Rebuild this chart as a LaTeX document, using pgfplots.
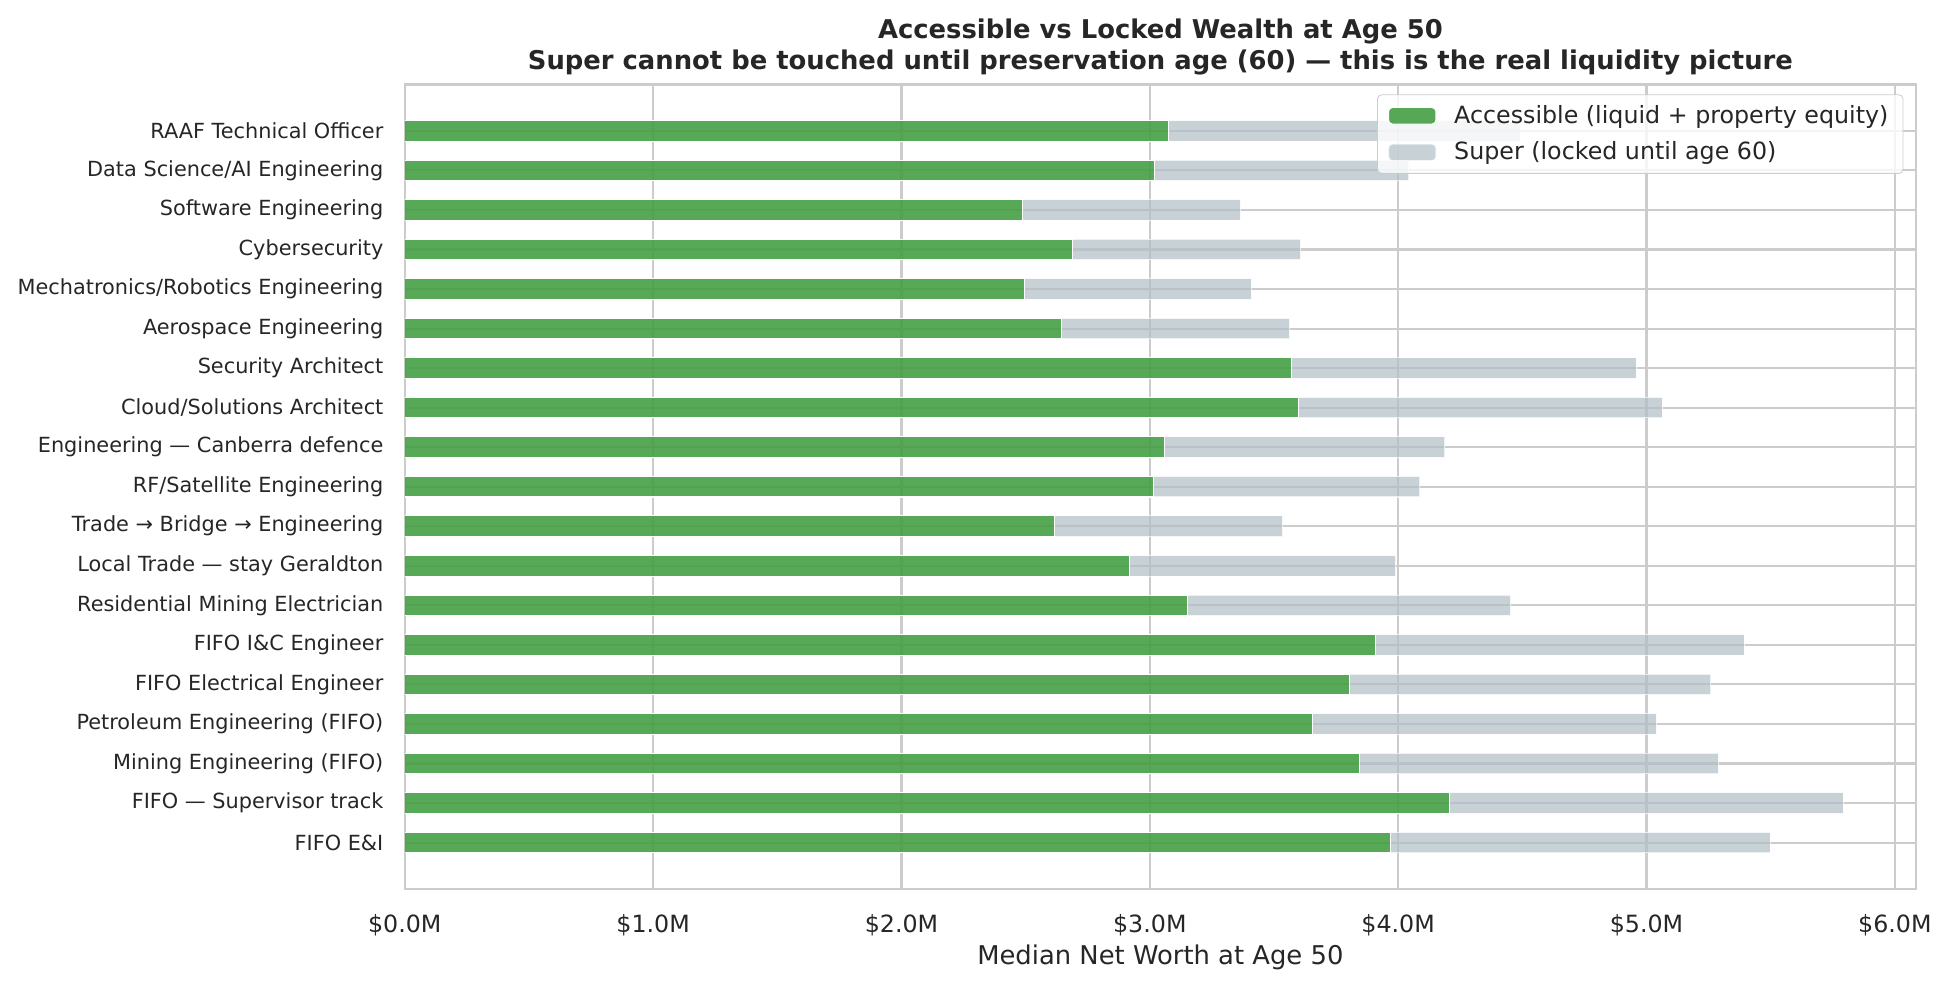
\documentclass[border=0pt]{standalone}
\usepackage{fontspec}
\setmainfont{DejaVu Sans}
\usepackage{pgfplots}
\usepackage{pgfplotstable}
\pgfplotsset{compat=1.18}
\definecolor{accgreen}{RGB}{69,158,69}
\definecolor{supgray}{RGB}{176,190,197}
\definecolor{gridgray}{RGB}{204,204,204}
\definecolor{txt}{RGB}{38,38,38}
\pgfplotstableread{
y acc sup
0 3.969 1.529
1 4.207 1.585
2 3.845 1.444
3 3.655 1.385
4 3.804 1.455
5 3.909 1.484
6 3.151 1.302
7 2.917 1.073
8 2.618 0.917
9 3.013 1.074
10 3.058 1.130
11 3.599 1.464
12 3.571 1.387
13 2.646 0.917
14 2.495 0.914
15 2.690 0.917
16 2.489 0.876
17 3.017 1.026
18 3.074 1.419
}\wealthdata
\begin{document}
\begin{tikzpicture}
\useasboundingbox (-194.3pt,-45.2pt) rectangle (740.2pt,426.7pt);
\begin{axis}[
  scale only axis, width=725.3pt, height=386.2pt,
  xbar stacked, bar width=0.52,
  xmin=0, xmax=6.085, ymin=-1.175, ymax=19.175,
  xtick={0,1,2,3,4,5,6},
  xticklabels={\$0.0M,\$1.0M,\$2.0M,\$3.0M,\$4.0M,\$5.0M,\$6.0M},
  ytick={0,1,...,18},
  yticklabels={FIFO E\&I, FIFO — Supervisor track, Mining Engineering (FIFO), Petroleum Engineering (FIFO), FIFO Electrical Engineer, FIFO I\&C Engineer, Residential Mining Electrician, Local Trade — stay Geraldton, Trade → Bridge → Engineering, RF/Satellite Engineering, Engineering — Canberra defence, Cloud/Solutions Architect, Security Architect, Aerospace Engineering, Mechatronics/Robotics Engineering, Cybersecurity, Software Engineering, Data Science/AI Engineering, RAAF Technical Officer},
  grid=major, major grid style={gridgray, line width=1pt},
  axis line style={gridgray, line width=1.25pt},
  tick style={draw=none},
  xticklabel style={font=\fontsize{11.4}{13.7}\selectfont, text=txt, anchor=base, yshift=-20.9pt, inner sep=0pt},
  yticklabel style={font=\fontsize{10}{12}\selectfont, text=txt, anchor=east, inner sep=0pt, xshift=-10.1pt},
  xlabel={Median Net Worth at Age 50},
  xlabel style={at={(axis description cs:0.5,0)}, anchor=base, yshift=-36pt, inner sep=0pt, font=\fontsize{12.4}{14.9}\selectfont, text=txt},
  title={Accessible vs Locked Wealth at Age 50\\Super cannot be touched until preservation age (60) — this is the real liquidity picture},
  title style={align=center, font=\bfseries\fontsize{12.4}{14.9}\selectfont, at={(axis description cs:0.5,1)}, anchor=south, yshift=-1.7pt, inner sep=0pt, text=txt},
  legend image code/.code={\fill[#1] (0pt,-4pt) rectangle (22.8pt,4pt); \path (29.3pt,0pt);},
  legend cell align=left,
  legend style={at={(axis description cs:1,1)}, anchor=north east, xshift=-6pt, yshift=-4.8pt,
    draw=gridgray, rounded corners=2pt, fill=white, fill opacity=0.8, text opacity=1,
    font=\fontsize{11.4}{13.7}\selectfont, text=txt, inner xsep=5pt, inner ysep=3pt, row sep=3.4pt},
]
\addplot[fill=accgreen, fill opacity=0.9, draw=white, line width=0.5pt] table[x=acc, y=y] {\wealthdata};
\addlegendentry{Accessible (liquid + property equity)}
\addplot[fill=supgray, fill opacity=0.7, draw=white, draw opacity=0.7, line width=0.5pt] table[x=sup, y=y] {\wealthdata};
\addlegendentry{Super (locked until age 60)}
\end{axis}
\end{tikzpicture}
\end{document}
